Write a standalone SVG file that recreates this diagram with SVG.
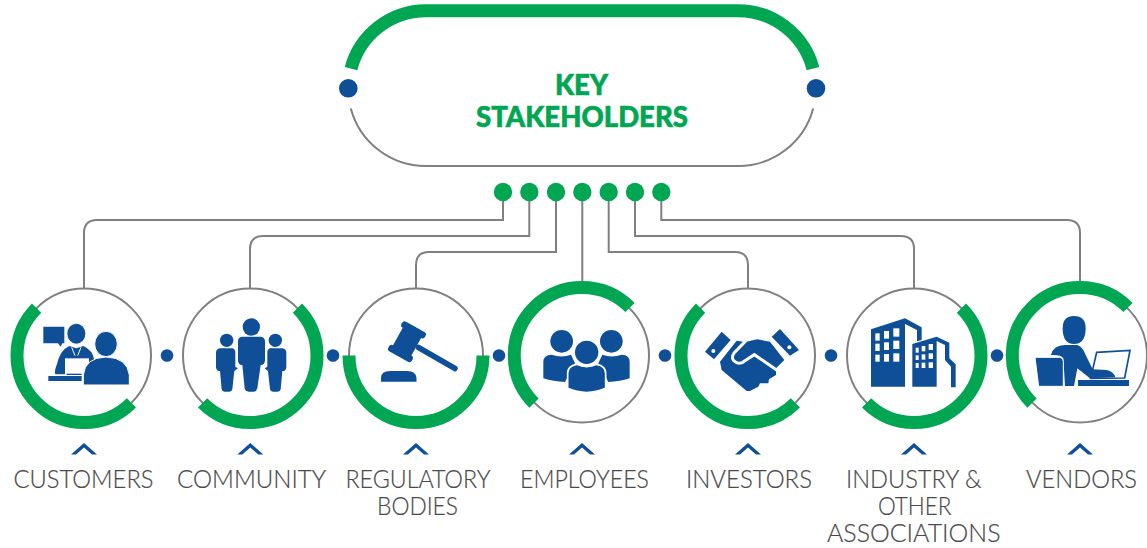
<svg xmlns="http://www.w3.org/2000/svg" xmlns:xlink="http://www.w3.org/1999/xlink" width="1147" height="548" viewBox="0 0 1147 548">
<style>
.bg{fill:#fff}
.ring{fill:#fff;stroke:#808080;stroke-width:2}
.arc{fill:none;stroke:#00a651;stroke-width:13}
.wire{fill:none;stroke:#808080;stroke-width:2}
.gd{fill:#00a651}
.bd{fill:#0f4f98}
.ic{fill:#0f4f98}
.w{fill:#fff}
.lab{font-family:"Lato","Liberation Sans",sans-serif;font-weight:300;font-size:25.5px;fill:#4a4a4c;stroke:#4a4a4c;stroke-width:.2}
.title{font-family:"Lato","Liberation Sans",sans-serif;font-weight:900;font-size:28px;fill:#00a651;stroke:#00a651;stroke-width:.6}
</style>
<defs>
<path id="chev" class="bd" d="M-13 454.5L0 443L13 454.5H8L0 447.5L-8 454.5Z"/>
</defs>
<rect class="bg" width="1147" height="548"/>

<g id="connectors">
<path class="wire" d="M503 192V220H97Q84 220 84 233V289"/>
<path class="wire" d="M529.3 192V236H263Q250 236 250 249V289"/>
<path class="wire" d="M556 192V252H429Q416 252 416 265V289"/>
<path class="wire" d="M582.3 192V289"/>
<path class="wire" d="M608.7 192V252H735Q748 252 748 265V289"/>
<path class="wire" d="M635 192V236H901Q914 236 914 249V289"/>
<path class="wire" d="M661.3 192V220H1067Q1080 220 1080 233V289"/>
</g>

<g id="key-stakeholders">
<path class="wire" d="M350.8 108.4A77.7 77.7 0 0 0 426 166H738A77.7 77.7 0 0 0 813.2 108.4"/>
<path class="arc" d="M351 68.6A77.7 77.7 0 0 1 426 10.7H738A77.7 77.7 0 0 1 813 68.6"/>
<circle class="bd" cx="348.3" cy="88.3" r="9.3"/>
<circle class="bd" cx="816" cy="88.3" r="9.3"/>
<text class="title" x="555" y="95" textLength="53" lengthAdjust="spacingAndGlyphs">KEY</text>
<text class="title" x="476" y="126.7" textLength="212" lengthAdjust="spacingAndGlyphs">STAKEHOLDERS</text>
<circle class="gd" cx="503" cy="192" r="9.2"/>
<circle class="gd" cx="529.3" cy="192" r="9.2"/>
<circle class="gd" cx="556" cy="192" r="9.2"/>
<circle class="gd" cx="582.3" cy="192" r="9.2"/>
<circle class="gd" cx="608.7" cy="192" r="9.2"/>
<circle class="gd" cx="635" cy="192" r="9.2"/>
<circle class="gd" cx="661.3" cy="192" r="9.2"/>
</g>

<g id="separators">
<circle class="bd" cx="167" cy="355.5" r="6.3"/>
<circle class="bd" cx="333" cy="355.5" r="6.3"/>
<circle class="bd" cx="499" cy="355.5" r="6.3"/>
<circle class="bd" cx="665" cy="355.5" r="6.3"/>
<circle class="bd" cx="831" cy="355.5" r="6.3"/>
<circle class="bd" cx="997" cy="355.5" r="6.3"/>
</g>

<g id="customers">
<circle class="ring" cx="84" cy="355.5" r="67"/>
<path class="arc" transform="translate(84 355.5)" d="M-47.4 -47.4A67 67 0 0 0 47.4 47.4"/>
<g transform="translate(30 315) scale(.33333)" class="ic">
<path d="M40 35H103V85H97L92 95L84 85H40Z"/>
<ellipse cx="139" cy="56" rx="27" ry="30"/>
<path d="M118 93L139 100L160 93Q188 105 193 135L160 178H90L76 178Q72 170 80 150Q90 105 118 93Z"/>
<path d="M125 97L135 122M153 97L143 122" stroke="#fff" stroke-width="3" fill="none"/>
<rect class="w" x="105" y="130" width="72" height="50"/>
<rect x="55" y="183" width="100" height="15"/>
<rect x="110" y="176" width="45" height="4"/>
<ellipse cx="228" cy="87" rx="34" ry="38" stroke="#fff" stroke-width="3"/>
<path d="M160 210V180Q165 128 228 126Q292 128 298 180V210Z" stroke="#fff" stroke-width="3"/>
</g>
<use xlink:href="#chev" href="#chev" x="84"/>
<text class="lab" x="13.5" y="488" textLength="140" lengthAdjust="spacingAndGlyphs">CUSTOMERS</text>
</g>

<g id="community">
<circle class="ring" cx="250" cy="355.5" r="67"/>
<path class="arc" transform="translate(250 355.5)" d="M47.4 -47.4A67 67 0 0 1 -47.4 47.4"/>
<g transform="translate(0 270) scale(.33333)" class="ic">
<circle cx="754" cy="171" r="26"/>
<path d="M725 200H783Q795 202 795 215V270Q795 285 782 285L772 355Q770 365 760 365H746Q736 365 734 355L727 285Q714 285 714 270V215Q714 202 725 200Z"/>
<circle cx="680" cy="211" r="20"/>
<path d="M660 235H697Q706 237 706 248V290L714 295L703 303L697 358Q696 365 688 365H674Q666 365 665 358L660 303H654Q648 300 648 292V248Q648 237 660 235Z"/>
<circle cx="826" cy="211" r="20"/>
<path d="M810 235H847Q859 237 859 248V292Q859 300 853 303H847L842 358Q841 365 833 365H819Q811 365 810 358L804 303L794 295L802 290V248Q802 237 810 235Z"/>
</g>
<use xlink:href="#chev" href="#chev" x="250.3"/>
<text class="lab" x="177" y="488" textLength="149" lengthAdjust="spacingAndGlyphs">COMMUNITY</text>
</g>

<g id="regulatory-bodies">
<circle class="ring" cx="416" cy="355.5" r="67"/>
<path class="arc" transform="translate(416 355.5)" d="M-67 0A67 67 0 0 0 67 0"/>
<g class="ic">
<g transform="translate(407 341.7) rotate(29)">
<rect x="-13.5" y="-17" width="27" height="7" rx="3"/>
<rect x="-10.5" y="-13" width="21" height="26"/>
<rect x="-13.5" y="10" width="27" height="7" rx="3"/>
</g>
<path d="M418.5 347.5L455 368.5" stroke="#0f4f98" stroke-width="5.5" stroke-linecap="round" fill="none"/>
<path d="M381 381.7V378Q381 371 390 371H407Q416 371 416.5 378V381.7Z"/>
</g>
<use xlink:href="#chev" href="#chev" x="416"/>
<text class="lab" x="345.5" y="488" textLength="145" lengthAdjust="spacingAndGlyphs">REGULATORY</text>
<text class="lab" x="377" y="515" textLength="81" lengthAdjust="spacingAndGlyphs">BODIES</text>
</g>

<g id="employees">
<circle class="ring" cx="582" cy="355.5" r="67"/>
<path class="arc" transform="translate(582 355.5)" d="M48 -48A67.6 67.6 0 1 0 -48 47.6"/>
<g transform="translate(335 270) scale(.33333)" class="ic">
<circle cx="680" cy="214" r="34"/>
<circle cx="829" cy="214" r="34"/>
<path d="M625 325V275Q625 255 650 254Q680 265 708 254L720 280L690 336Q655 335 625 325Z"/>
<path d="M884 325V275Q884 255 860 254Q830 265 802 254L790 280L820 336Q855 335 884 325Z"/>
<circle cx="755" cy="247" r="35"/>
<path d="M698 355V310Q698 288 725 283Q755 297 785 283Q812 288 812 310V355Q755 380 698 355Z" stroke="#fff" stroke-width="5"/>
</g>
<use xlink:href="#chev" href="#chev" x="582"/>
<text class="lab" x="520" y="488" textLength="129" lengthAdjust="spacingAndGlyphs">EMPLOYEES</text>
</g>

<g id="investors">
<circle class="ring" cx="748" cy="355.5" r="67"/>
<path class="arc" transform="translate(748 355.5)" d="M-47.4 -47.4A67 67 0 0 0 47.4 47.4"/>
<g transform="translate(695 320) scale(.33333)" class="ic">
<path d="M80 35L107 60L57 118L30 95Z"/>
<circle class="w" cx="55" cy="93" r="6"/>
<path d="M255 27L312 90L285 107L230 50Z"/>
<circle class="w" cx="283" cy="82" r="6"/>
<path d="M125 62L150 66L187 58L225 65L268 120L243 145L243 165L222 178L220 190L195 190L190 200L165 213H155L80 150L75 125Z"/>
<path d="M153 62L118 98Q104 118 125 128Q138 134 150 122L178 104L245 150" fill="none" stroke="#fff" stroke-width="9"/>
</g>
<use xlink:href="#chev" href="#chev" x="748"/>
<text class="lab" x="686" y="488" textLength="126" lengthAdjust="spacingAndGlyphs">INVESTORS</text>
</g>

<g id="industry-other-associations">
<circle class="ring" cx="914" cy="355.5" r="67"/>
<path class="arc" transform="translate(914 355.5)" d="M47.4 -47.4A67 67 0 0 1 -47.4 47.4"/>
<g transform="translate(670 270) scale(.33333)" class="ic">
<path d="M603 350V178L705 145L755 172V210L741 214V180L705 162V350Z"/>
<path d="M727 350V222L800 200L838 218V265L857 283V352H843V290L825 270V225L800 213V350Z"/>
<g class="w">
<rect x="616" y="190" width="13" height="22"/><rect x="642" y="183" width="15" height="23"/><rect x="670" y="175" width="18" height="25"/>
<rect x="616" y="221" width="13" height="22"/><rect x="642" y="217" width="15" height="23"/><rect x="670" y="212" width="18" height="25"/>
<rect x="616" y="254" width="13" height="21"/><rect x="642" y="252" width="15" height="23"/><rect x="670" y="250" width="18" height="25"/>
<rect x="737" y="233" width="9" height="15"/><rect x="755" y="228" width="11" height="16"/><rect x="776" y="222" width="13" height="18"/>
<rect x="737" y="256" width="9" height="14"/><rect x="755" y="253" width="11" height="16"/><rect x="776" y="250" width="13" height="17"/>
<rect x="737" y="279" width="9" height="15"/><rect x="755" y="278" width="11" height="16"/><rect x="776" y="277" width="13" height="17"/>
</g>
</g>
<use xlink:href="#chev" href="#chev" x="914"/>
<text class="lab" x="846" y="488" textLength="135.5" lengthAdjust="spacingAndGlyphs">INDUSTRY &amp;</text>
<text class="lab" x="878" y="515" textLength="73.5" lengthAdjust="spacingAndGlyphs">OTHER</text>
<text class="lab" x="827" y="542" textLength="173.5" lengthAdjust="spacingAndGlyphs">ASSOCIATIONS</text>
</g>

<g id="vendors">
<circle class="ring" cx="1080" cy="355.5" r="67"/>
<path class="arc" transform="translate(1080 355.5)" d="M48 -48A67.6 67.6 0 1 0 -48 47.6"/>
<g transform="translate(990 270) scale(.33333)" class="ic">
<path d="M218 175Q218 138 252 138Q287 138 287 175Q287 222 252 222Q218 222 218 175Z"/>
<path d="M183 255Q190 225 225 225H262Q278 230 287 255L308 298L350 300Q372 305 376 322L300 325L262 295L252 348H225L220 265Q215 254 183 255Z"/>
<path d="M135 262H208Q218 262 220 275V349H146Z" stroke="#fff" stroke-width="3"/>
<path d="M320 247L420 241L404 324L302 325Z" fill="none" stroke="#0f4f98" stroke-width="5"/>
<rect x="264" y="330" width="153" height="18"/>
</g>
<use xlink:href="#chev" href="#chev" x="1080"/>
<text class="lab" x="1026" y="488" textLength="111" lengthAdjust="spacingAndGlyphs">VENDORS</text>
</g>
</svg>
